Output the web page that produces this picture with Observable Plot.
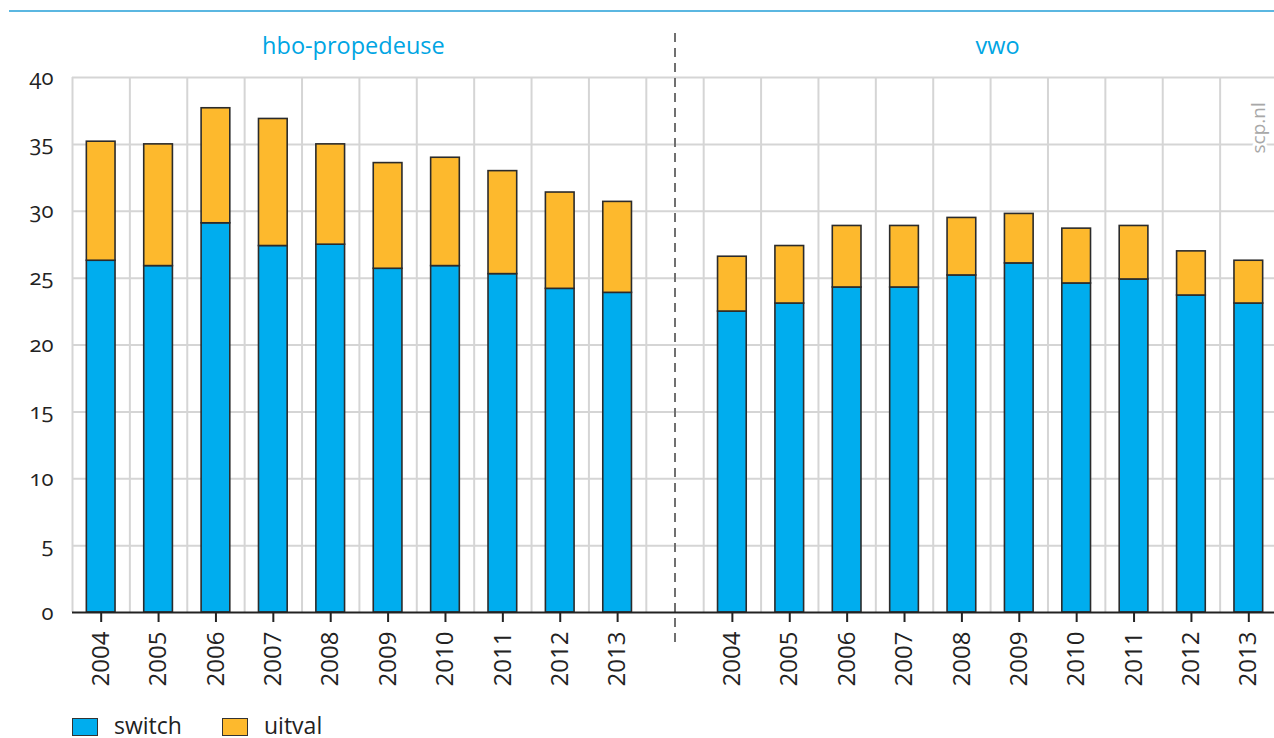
<!DOCTYPE html>
<html><head><meta charset="utf-8">
<script src="https://cdn.jsdelivr.net/npm/d3@7"></script>
<script src="https://cdn.jsdelivr.net/npm/@observablehq/plot@0.6"></script>
<style>
body{margin:0;background:#fff;font-family:"Open Sans",sans-serif;}
#wrap{position:relative;width:1274px;height:738px;overflow:hidden;background:#fff;}
#topline{position:absolute;left:9px;right:0;top:10px;height:2px;background:#5bb7e1;}
#chart{position:absolute;left:0;top:0;}
#legend{position:absolute;left:72px;top:713px;display:flex;align-items:center;font-size:23px;line-height:24px;color:#222;}
.sw{width:24px;height:16px;border:1.6px solid #333;margin-right:16px;margin-top:4px;}
.item{display:flex;align-items:center;width:150px;}
[aria-label="y-axis tick label"], [aria-label="y-axis tick label"] text{font-variant-numeric:oldstyle-nums !important;font-feature-settings:"onum" 1 !important;}
</style></head>
<body><div id="wrap"><div id="topline"></div><div id="chart"></div><div id="legend"></div></div>
<script>
const years = ["2004","2005","2006","2007","2008","2009","2010","2011","2012","2013"];
const groups = ["hbo","vwo"];
const groupTitles = ["hbo-propedeuse","vwo"];
const seriesNames = ["switch","uitval"];
const seriesColors = ["#00adee","#fdb92d"];
const hboSwitch = [26.3,25.9,29.1,27.4,27.5,25.7,25.9,25.3,24.2,23.9];
const hboUitval = [8.9,9.1,8.6,9.5,7.5,7.9,8.1,7.7,7.2,6.8];
const vwoSwitch = [22.5,23.1,24.3,24.3,25.2,26.1,24.6,24.9,23.7,23.1];
const vwoUitval = [4.1,4.3,4.6,4.6,4.3,3.7,4.1,4.0,3.3,3.2];
const yTicks = [0,5,10,15,20,25,30,35,40];

const values = {hbo:[hboSwitch,hboUitval], vwo:[vwoSwitch,vwoUitval]};
const rows = [];
groups.forEach(g => years.forEach((yr,i) => seriesNames.forEach((s,j) =>
  rows.push({key:g+"|"+yr, type:s, value:values[g][j][i]}))));
const domain = [...years.map(y=>"hbo|"+y), "gap", ...years.map(y=>"vwo|"+y)];
const W=1274, H=705, ML=72, MR=-3, MT=77, MB=93;
const step = (W-ML-MR)/domain.length;
const grid = "#d5d5d5";

const chart = Plot.plot({
  width:W, height:H, marginLeft:ML, marginRight:MR, marginTop:MT, marginBottom:MB,
  style:{fontFamily:"'Open Sans',sans-serif", color:"#222", background:"transparent", overflow:"visible"},
  x:{domain, paddingInner:0.5, paddingOuter:0.25, align:0.5, round:false, axis:null},
  y:{domain:[0,40], axis:null},
  color:{domain:seriesNames, range:seriesColors},
  marks:[
    Plot.ruleY(yTicks.filter(d=>d>0), {stroke:grid, strokeWidth:2}),
    Plot.ruleX(domain, {x:d=>d, dx:-step/2, stroke:grid, strokeWidth:2}),
    Plot.ruleX([domain[domain.length-1]], {x:d=>d, dx:step/2, stroke:grid, strokeWidth:2}),
    Plot.ruleX(["gap"], {x:d=>d, stroke:"#707070", strokeWidth:2, strokeDasharray:"9,6", insetTop:-44, insetBottom:-36}),
    Plot.barY(rows, {x:"key", y:"value", fill:"type", stroke:"#2b2b2b", strokeWidth:1.6}),
    Plot.ruleY([0], {stroke:"#222", strokeWidth:2}),
    Plot.axisX({ticks:domain.filter(d=>d!=="gap"), tickFormat:d=>d.split("|")[1], tickRotate:-90,
      tickSize:10, tickPadding:9, fontSize:24, stroke:"#222", strokeWidth:2, label:null}),
    Plot.axisY({ticks:yTicks, tickSize:0, tickPadding:19, fontSize:22, fontVariant:"oldstyle-nums", label:null}),
    Plot.text([groupTitles[0]], {x:()=>groups[0]+"|2008", text:d=>d, dx:step/2-6, frameAnchor:"top", lineAnchor:"middle", dy:-31,
      fill:"#00a5e3", fontSize:23.5}),
    Plot.text([groupTitles[1]], {x:()=>groups[1]+"|2008", text:d=>d, dx:step/2+7, frameAnchor:"top", lineAnchor:"middle", dy:-31,
      fill:"#00a5e3", fontSize:23.5}),
    Plot.text(["scp.nl"], {text:d=>d, frameAnchor:"top-right", lineAnchor:"middle", rotate:-90, textAnchor:"start",
      dx:-19, dy:76, fill:"#a8a8a8", fontSize:19, stroke:"white", strokeWidth:6})
  ]
});
document.getElementById("chart").appendChild(chart);

const legend = document.getElementById("legend");
seriesNames.forEach((s,i) => {
  const it = document.createElement("div"); it.className="item";
  const sw = document.createElement("div"); sw.className="sw"; sw.style.background=seriesColors[i];
  const t = document.createElement("span"); t.textContent=s;
  it.appendChild(sw); it.appendChild(t); legend.appendChild(it);
});
</script></body></html>
